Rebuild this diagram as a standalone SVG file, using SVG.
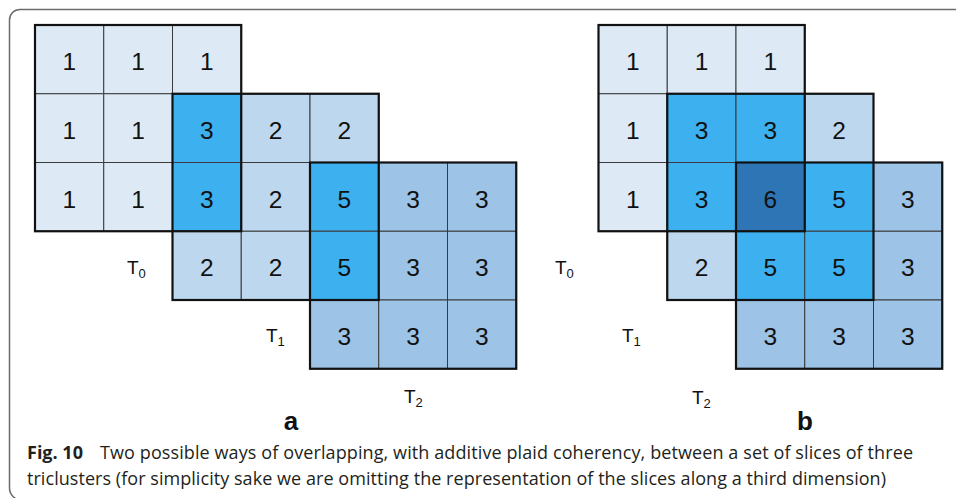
<svg xmlns="http://www.w3.org/2000/svg" width="956" height="498" viewBox="0 0 956 498">
  <style>
    .c { stroke: #3a3a3a; stroke-width: 1; }
    .t0 { fill: #DDEAF6; }
    .t1 { fill: #BDD7EE; }
    .t2 { fill: #9DC3E6; }
    .ov { fill: #3DB0F0; }
    .tri { fill: #2E75B6; }
    .outline { fill: none; stroke: #111; stroke-width: 2.2; }
    .v { font-family: "Liberation Sans", Arial, sans-serif; font-size: 24.5px; fill: #111; text-anchor: middle; }
    .lbl { font-family: "Liberation Sans", Arial, sans-serif; font-size: 19px; fill: #111; }
    .sub { font-size: 13px; }
    .panel { font-family: "Liberation Sans", Arial, sans-serif; font-size: 26px; font-weight: bold; fill: #111; text-anchor: middle; }
    .cap { font-family: "Open Sans", "Noto Sans", sans-serif; font-size: 18px; fill: #231f20; }
    .capb { font-weight: bold; }
  </style>

  <rect width="956" height="498" fill="#fff"/>

  <!-- figure frame: open to the right and bottom -->
  <path d="M 960 9.5 H 20 A 10.5 10.5 0 0 0 9.5 20 V 488 A 12 12 0 0 0 21.5 500" fill="none" stroke="#6b6b6b" stroke-width="1.5"/>

  <!-- panel a: three triclusters overlapping pairwise -->
  <g id="panel-a">
    <g id="a-cells">
      <rect class="c t0" x="35" y="25" width="68.75" height="68.75"/>
      <rect class="c t0" x="103.75" y="25" width="68.75" height="68.75"/>
      <rect class="c t0" x="172.5" y="25" width="68.75" height="68.75"/>

      <rect class="c t0" x="35" y="93.75" width="68.75" height="68.75"/>
      <rect class="c t0" x="103.75" y="93.75" width="68.75" height="68.75"/>
      <rect class="c ov" x="172.5" y="93.75" width="68.75" height="68.75"/>
      <rect class="c t1" x="241.25" y="93.75" width="68.75" height="68.75"/>
      <rect class="c t1" x="310" y="93.75" width="68.75" height="68.75"/>

      <rect class="c t0" x="35" y="162.5" width="68.75" height="68.75"/>
      <rect class="c t0" x="103.75" y="162.5" width="68.75" height="68.75"/>
      <rect class="c ov" x="172.5" y="162.5" width="68.75" height="68.75"/>
      <rect class="c t1" x="241.25" y="162.5" width="68.75" height="68.75"/>
      <rect class="c ov" x="310" y="162.5" width="68.75" height="68.75"/>
      <rect class="c t2" x="378.75" y="162.5" width="68.75" height="68.75"/>
      <rect class="c t2" x="447.5" y="162.5" width="68.75" height="68.75"/>

      <rect class="c t1" x="172.5" y="231.25" width="68.75" height="68.75"/>
      <rect class="c t1" x="241.25" y="231.25" width="68.75" height="68.75"/>
      <rect class="c ov" x="310" y="231.25" width="68.75" height="68.75"/>
      <rect class="c t2" x="378.75" y="231.25" width="68.75" height="68.75"/>
      <rect class="c t2" x="447.5" y="231.25" width="68.75" height="68.75"/>

      <rect class="c t2" x="310" y="300" width="68.75" height="68.75"/>
      <rect class="c t2" x="378.75" y="300" width="68.75" height="68.75"/>
      <rect class="c t2" x="447.5" y="300" width="68.75" height="68.75"/>
    </g>
    <g id="a-outlines">
      <rect id="a-T0" class="outline" x="35" y="25" width="206.25" height="206.25"/>
      <rect id="a-T1" class="outline" x="172.5" y="93.75" width="206.25" height="206.25"/>
      <rect id="a-T2" class="outline" x="310" y="162.5" width="206.25" height="206.25"/>
    </g>
    <g id="a-values">
      <text class="v" x="69.4" y="70">1</text>
      <text class="v" x="138.1" y="70">1</text>
      <text class="v" x="206.9" y="70">1</text>

      <text class="v" x="69.4" y="138.75">1</text>
      <text class="v" x="138.1" y="138.75">1</text>
      <text class="v" x="206.9" y="138.75">3</text>
      <text class="v" x="275.6" y="138.75">2</text>
      <text class="v" x="344.4" y="138.75">2</text>

      <text class="v" x="69.4" y="207.5">1</text>
      <text class="v" x="138.1" y="207.5">1</text>
      <text class="v" x="206.9" y="207.5">3</text>
      <text class="v" x="275.6" y="207.5">2</text>
      <text class="v" x="344.4" y="207.5">5</text>
      <text class="v" x="413.1" y="207.5">3</text>
      <text class="v" x="481.9" y="207.5">3</text>

      <text class="v" x="206.9" y="276.25">2</text>
      <text class="v" x="275.6" y="276.25">2</text>
      <text class="v" x="344.4" y="276.25">5</text>
      <text class="v" x="413.1" y="276.25">3</text>
      <text class="v" x="481.9" y="276.25">3</text>

      <text class="v" x="344.4" y="345">3</text>
      <text class="v" x="413.1" y="345">3</text>
      <text class="v" x="481.9" y="345">3</text>
    </g>
    <g id="a-labels">
      <text class="lbl" x="127" y="274">T<tspan class="sub" dy="4">0</tspan></text>
      <text class="lbl" x="266" y="342">T<tspan class="sub" dy="4">1</tspan></text>
      <text class="lbl" x="404" y="403">T<tspan class="sub" dy="4">2</tspan></text>
      <text class="panel" x="291" y="430">a</text>
    </g>
  </g>

  <!-- panel b: all three triclusters meet in one cell -->
  <g id="panel-b">
    <g id="b-cells">
      <rect class="c t0" x="598.5" y="25" width="68.75" height="68.75"/>
      <rect class="c t0" x="667.25" y="25" width="68.75" height="68.75"/>
      <rect class="c t0" x="736" y="25" width="68.75" height="68.75"/>

      <rect class="c t0" x="598.5" y="93.75" width="68.75" height="68.75"/>
      <rect class="c ov" x="667.25" y="93.75" width="68.75" height="68.75"/>
      <rect class="c ov" x="736" y="93.75" width="68.75" height="68.75"/>
      <rect class="c t1" x="804.75" y="93.75" width="68.75" height="68.75"/>

      <rect class="c t0" x="598.5" y="162.5" width="68.75" height="68.75"/>
      <rect class="c ov" x="667.25" y="162.5" width="68.75" height="68.75"/>
      <rect class="c tri" x="736" y="162.5" width="68.75" height="68.75"/>
      <rect class="c ov" x="804.75" y="162.5" width="68.75" height="68.75"/>
      <rect class="c t2" x="873.5" y="162.5" width="68.75" height="68.75"/>

      <rect class="c t1" x="667.25" y="231.25" width="68.75" height="68.75"/>
      <rect class="c ov" x="736" y="231.25" width="68.75" height="68.75"/>
      <rect class="c ov" x="804.75" y="231.25" width="68.75" height="68.75"/>
      <rect class="c t2" x="873.5" y="231.25" width="68.75" height="68.75"/>

      <rect class="c t2" x="736" y="300" width="68.75" height="68.75"/>
      <rect class="c t2" x="804.75" y="300" width="68.75" height="68.75"/>
      <rect class="c t2" x="873.5" y="300" width="68.75" height="68.75"/>
    </g>
    <g id="b-outlines">
      <rect id="b-T0" class="outline" x="598.5" y="25" width="206.25" height="206.25"/>
      <rect id="b-T1" class="outline" x="667.25" y="93.75" width="206.25" height="206.25"/>
      <rect id="b-T2" class="outline" x="736" y="162.5" width="206.25" height="206.25"/>
    </g>
    <g id="b-values">
      <text class="v" x="632.9" y="70">1</text>
      <text class="v" x="701.6" y="70">1</text>
      <text class="v" x="770.4" y="70">1</text>

      <text class="v" x="632.9" y="138.75">1</text>
      <text class="v" x="701.6" y="138.75">3</text>
      <text class="v" x="770.4" y="138.75">3</text>
      <text class="v" x="839.1" y="138.75">2</text>

      <text class="v" x="632.9" y="207.5">1</text>
      <text class="v" x="701.6" y="207.5">3</text>
      <text class="v" x="770.4" y="207.5">6</text>
      <text class="v" x="839.1" y="207.5">5</text>
      <text class="v" x="907.9" y="207.5">3</text>

      <text class="v" x="701.6" y="276.25">2</text>
      <text class="v" x="770.4" y="276.25">5</text>
      <text class="v" x="839.1" y="276.25">5</text>
      <text class="v" x="907.9" y="276.25">3</text>

      <text class="v" x="770.4" y="345">3</text>
      <text class="v" x="839.1" y="345">3</text>
      <text class="v" x="907.9" y="345">3</text>
    </g>
    <g id="b-labels">
      <text class="lbl" x="555" y="274">T<tspan class="sub" dy="4">0</tspan></text>
      <text class="lbl" x="622" y="342">T<tspan class="sub" dy="4">1</tspan></text>
      <text class="lbl" x="692" y="404">T<tspan class="sub" dy="4">2</tspan></text>
      <text class="panel" x="805" y="430">b</text>
    </g>
  </g>

  <!-- caption -->
  <g id="caption">
    <text class="cap capb" x="27" y="459">Fig. 10</text>
    <text class="cap" x="100" y="459" textLength="813">Two possible ways of overlapping, with additive plaid coherency, between a set of slices of three</text>
    <text class="cap" x="27" y="485" textLength="859">triclusters (for simplicity sake we are omitting the representation of the slices along a third dimension)</text>
  </g>
</svg>
